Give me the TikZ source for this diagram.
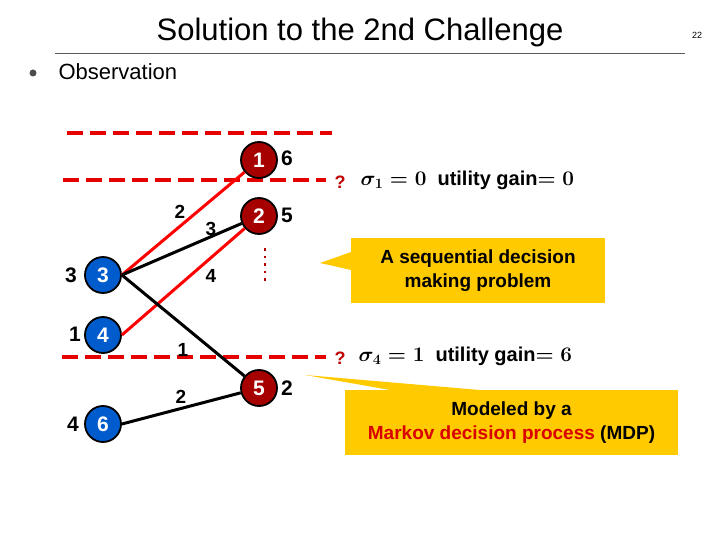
\documentclass[tikz,border=0pt]{standalone}
\usepackage{fontspec}
\setmainfont{Liberation Sans}
\usepackage{amsmath}
\begin{document}
\begin{tikzpicture}[x=1pt,y=-1pt,
 rn/.style={circle,draw=black,line width=1.8pt,fill=red!65!black,text=white,font=\bfseries\fontsize{21}{21}\selectfont,minimum size=36pt,inner sep=0pt},
 bn/.style={rn,fill=blue!55!cyan!80!black},
 lb/.style={font=\bfseries\fontsize{21}{21}\selectfont},
 el/.style={font=\bfseries\fontsize{19}{19}\selectfont},
 dl/.style={red!90!black,line width=3.5pt,dash pattern=on 16pt off 7pt},
 ed/.style={line width=3pt},
 co/.style={fill=orange!35!yellow!90!orange,draw=none}]
\useasboundingbox (0,0) rectangle (720,540);
\node[font=\fontsize{31}{31}\selectfont] (title) at (360,32) {Solution to the 2nd Challenge};
\draw[line width=0.6pt,gray!70!black] (55,53) -- (685,53);
\node[font=\fontsize{9}{9}\selectfont] (pg) at (697,35) {22};
\node[circle,fill=gray!60!black,inner sep=0pt,minimum size=7pt] (bul) at (33,73) {};
\node[anchor=west,font=\fontsize{22}{22}\selectfont] (obs) at (55,72) {Observation};
% dashed
\coordinate (d1a) at (67,133); \coordinate (d1b) at (332,133);
\coordinate (d2a) at (63,180); \coordinate (d2b) at (326,180);
\coordinate (d3a) at (62,357); \coordinate (d3b) at (326,357);
\draw[dl] (d1a)--(d1b); \draw[dl] (d2a)--(d2b); \draw[dl] (d3a)--(d3b);
\node[red!75!black,font=\bfseries\fontsize{18}{18}\selectfont] (q1) at (340,182) {?};
\node[red!75!black,font=\bfseries\fontsize{18}{18}\selectfont] (q2) at (340,358) {?};
\node[anchor=west,font=\bfseries\boldmath\fontsize{20}{20}\selectfont] (s1) at (357,180) {$\sigma_1=0$\ \ utility gain$=0$};
\node[anchor=west,font=\bfseries\boldmath\fontsize{20}{20}\selectfont] (s4) at (355,356) {$\sigma_4=1$\ \ utility gain$=6$};
% nodes
\node[rn] (n1) at (259,160) {1};
\node[rn] (n2) at (259,216) {2};
\node[rn] (n5) at (259,388) {5};
\node[bn] (b3) at (103,275) {3};
\node[bn] (b4) at (103,335) {4};
\node[bn] (b6) at (103,424) {6};
\node[lb] (l1) at (287,158) {6};
\node[lb] (l2) at (287,215) {5};
\node[lb] (l5) at (287,388) {2};
\node[lb] (l3) at (71,275) {3};
\node[lb] (l4) at (75,334) {1};
\node[lb] (l6) at (73,424) {4};
\draw[ed,red] (b3.east) -- (n1);
\draw[ed] (b3.east) -- (n2);
\draw[ed,red] (b4.east) -- (n2);
\draw[ed] (b3.east) -- (n5);
\draw[ed] (b6.east) -- (n5);
\node[el] (e1) at (180,212) {2};
\node[el] (e2) at (211,229) {3};
\node[el] (e3) at (211,276) {4};
\node[el] (e4) at (183,350) {1};
\node[el] (e5) at (181,397) {2};
\coordinate (da) at (265,248); \coordinate (db) at (265,285);
\draw[red!70!black,line width=2.5pt,dash pattern=on 2.5pt off 5pt] (da)--(db);
% callouts
\coordinate (t1) at (320,263);
\coordinate (t2) at (305,375);
\fill[co] (t1) -- (351,252) -- (351,270) -- cycle;
\node[co,minimum width=254pt,minimum height=65pt,align=center,font=\bfseries\fontsize{19}{24}\selectfont] (c1) at (478,270.5) {A sequential decision\\making problem};
\fill[co] (t2) -- (390,390) -- (480,390) -- cycle;
\node[co,minimum width=333pt,minimum height=65pt,align=center,font=\bfseries\fontsize{19}{24}\selectfont] (c2) at (511.5,422.5) {Modeled by a\\\textcolor{red!85!black}{Markov decision process} (MDP)};
\end{tikzpicture}
\end{document}
